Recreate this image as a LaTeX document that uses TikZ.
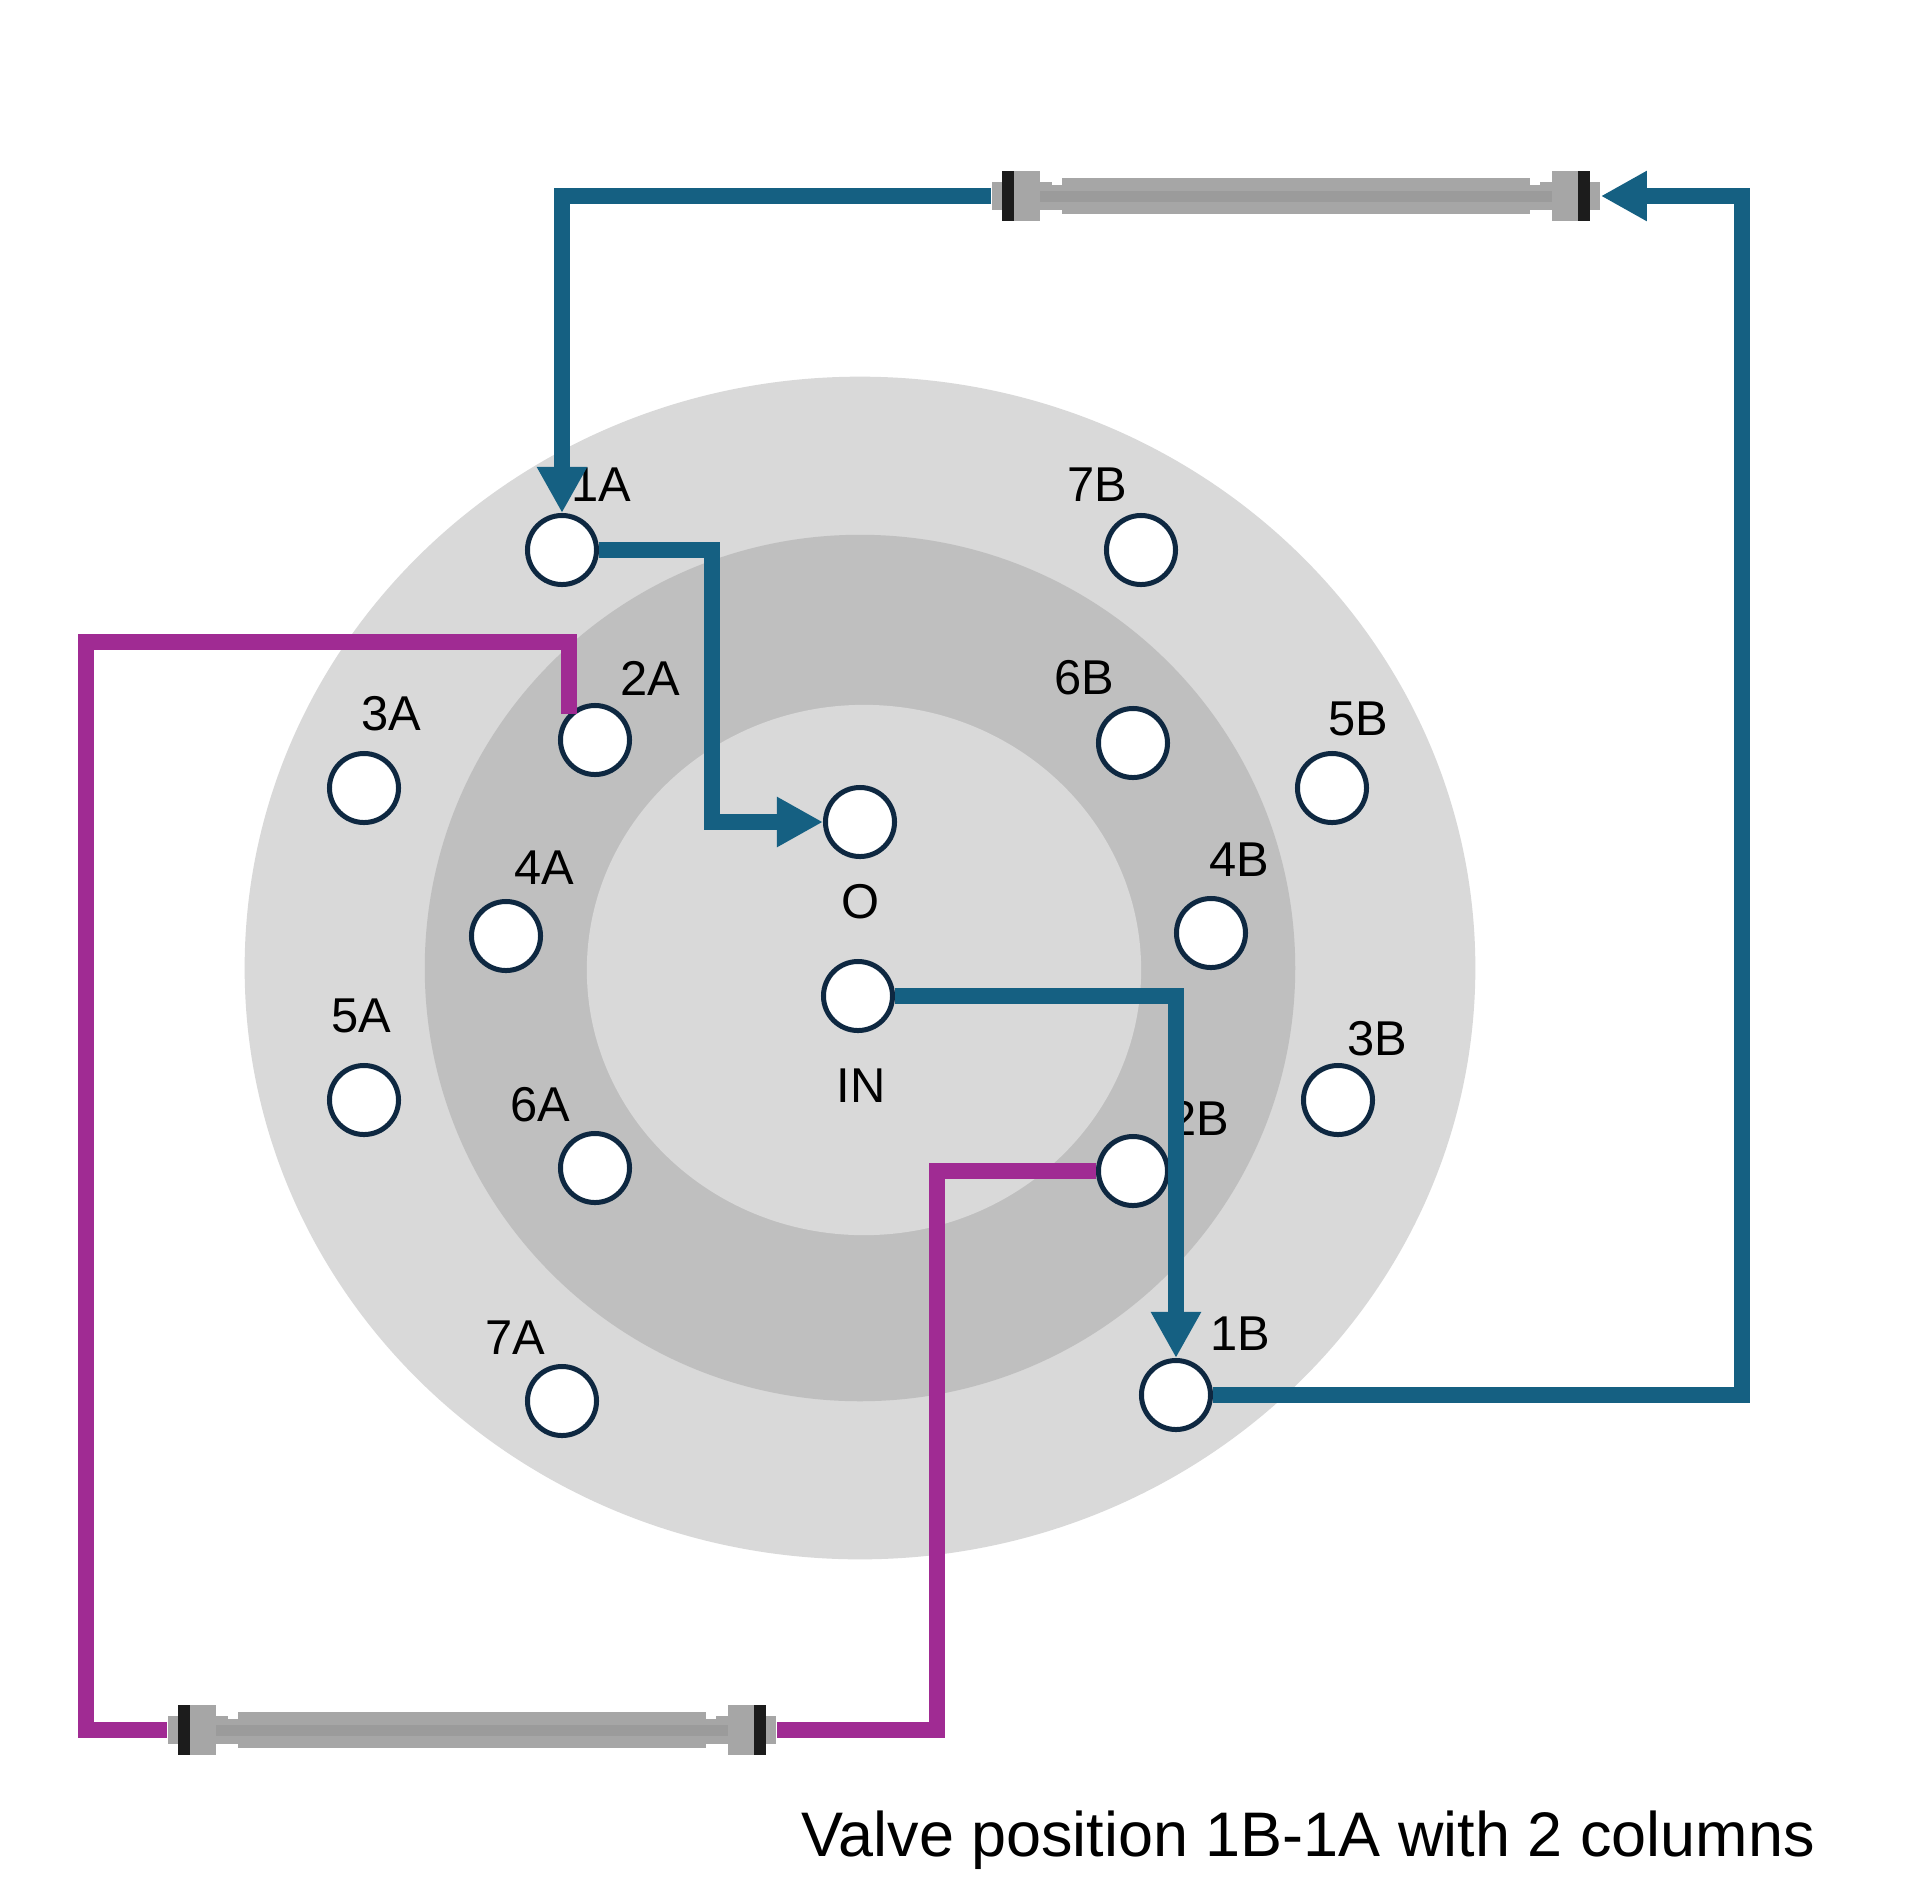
\documentclass[tikz,border=0pt]{standalone}
\usepackage{fontspec}
\setmainfont{Liberation Sans}
\usetikzlibrary{arrows.meta}
\definecolor{discLight}{HTML}{D9D9D9}
\definecolor{discDark}{HTML}{BFBFBF}
\definecolor{flowBlue}{HTML}{156082}
\definecolor{flowPurple}{HTML}{A02B93}
\definecolor{portEdge}{HTML}{0E2841}
\definecolor{tubeGrey}{HTML}{A6A6A6}
\definecolor{tubeMid}{HTML}{9B9B9B}
\definecolor{bandBlack}{HTML}{1C1C1C}
\begin{document}
\begin{tikzpicture}[x=0.01cm, y=-0.01cm,
	port/.style ={circle, draw = portEdge, fill = white, line width = .05cm, minimum size = .69cm, inner sep = 0pt},
	tag/.style ={text = black, inner sep = 0pt, font = \fontsize{13.9}{16}\selectfont},
	caption/.style ={text = black, inner sep = 0pt, font = \fontsize{17.9}{22}\selectfont},
	flowline/.style ={line width = .16cm},
	tipped/.style ={-{Triangle[width = .47cm, length = .46cm]}},
	column/.pic ={
		\node [minimum width = 6.08cm, minimum height = .5cm, inner sep = 0pt] (-box) at (0,0) {};
		\fill [tubeGrey] (-234,-18) rectangle (234,18);
		\fill [tubeMid] (-234,-5) rectangle (234,6);
		\foreach \s in {-1,1} {
			\begin{scope}[xscale=\s]
				\fill [tubeGrey] (-304,-14) rectangle (-244,14);
				\fill [tubeGrey] (-244,-11) rectangle (-234,14);
				\fill [tubeMid] (-256,-5) rectangle (-234,6);
				\fill [tubeGrey] (-282,-25) rectangle (-256,25);
				\fill [bandBlack] (-294,-25) rectangle (-282,25);
			\end{scope}
		}
	}]
	\useasboundingbox (0,0) rectangle (1920,1896);
	\fill [white] (0,0) rectangle (1920,1896);

	\fill [discLight] (860,968) ellipse [x radius = 6.15cm, y radius = 5.91cm];
	\fill [discDark] (860,968) ellipse [x radius = 4.35cm, y radius = 4.33cm];
	\fill [discLight] (864,970) ellipse [x radius = 2.77cm, y radius = 2.65cm];

	\foreach \name/\px/\py/\lx/\ly in {1A/562/550/601/485, 2A/595/740/650/678, 3A/364/788/391/714, 4A/506/936/544/868,
		5A/364/1100/361/1016, 6A/595/1168/540/1105, 7A/562/1401/515/1338, 1B/1176/1395/1240/1334,
		2B/1133/1171/1199/1118, 3B/1338/1100/1377/1039, 4B/1211/933/1239/860, 5B/1332/788/1358/719,
		6B/1133/743/1084/678, 7B/1141/550/1097/485} {
		\node [tag] (tag\name) at (\lx,\ly) {\name};
		\node [port] (port\name) at (\px,\py) {};
	}
	\node [port] (portO) at (860,822) {};
	\node [port] (portIN) at (858,996) {};
	\node [tag] (tagO) at (861,902) {O};
	\node [tag] (tagIN) at (861,1086) {IN};

	\pic (colA) at (1296,196) {column};
	\pic (colB) at (472,1730) {column};

	\coordinate (bendA) at (86,642);
	\coordinate (bendB) at (712,822);
	\coordinate (bendC) at (1742,196);
	\coordinate (bendD) at (937,1730);

	\draw [flowline, flowBlue, tipped] (colA-box.west) -| (port1A.north);
	\draw [flowline, flowBlue, tipped] (port1A.east) -| (bendB) -- (portO.west);
	\draw [flowline, flowBlue, tipped] (portIN.east) -| (port1B.north);
	\draw [flowline, flowBlue, tipped] (port1B.east) -| (bendC) -- (colA-box.east);
	\draw [flowline, flowPurple] (port2A.north west) |- (bendA) |- (colB-box.west);
	\draw [flowline, flowPurple] (colB-box.east) -- (bendD) |- (port2B.west);

	\node [caption] (title) at (1308,1840) {Valve position 1B-1A with 2 columns};
\end{tikzpicture}
\end{document}
